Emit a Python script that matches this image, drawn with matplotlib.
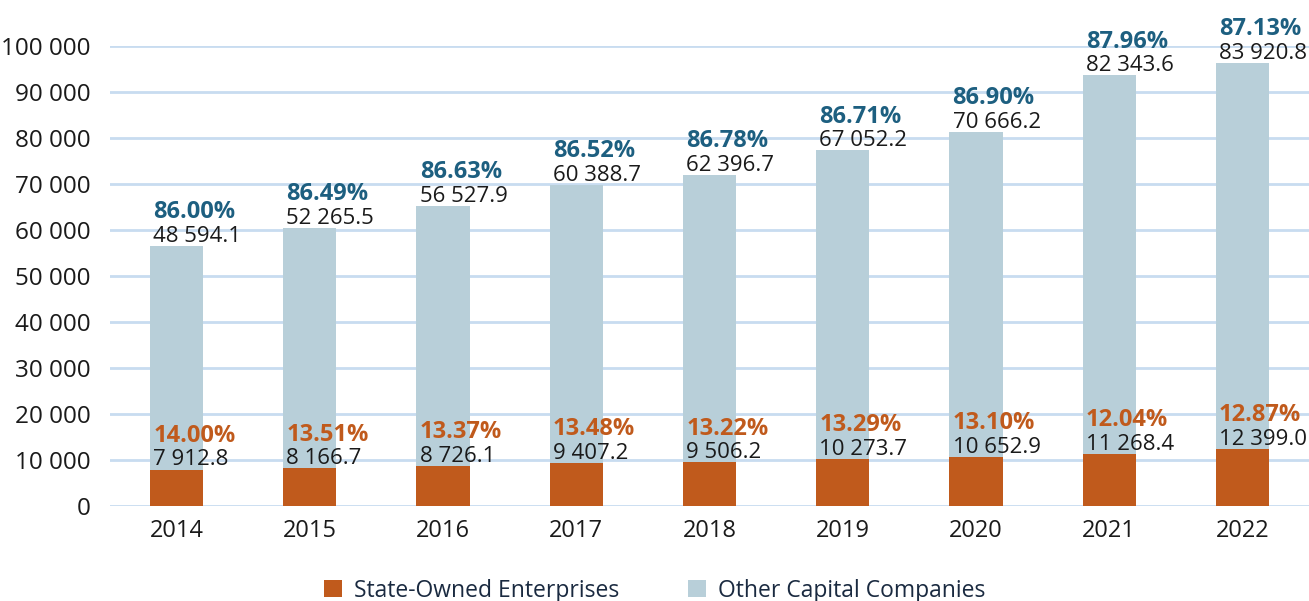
import matplotlib.pyplot as plt
from matplotlib.ticker import FuncFormatter
import numpy as np

years = ['2014', '2015', '2016', '2017', '2018', '2019', '2020', '2021', '2022']
soe = [7912.8, 8166.7, 8726.1, 9407.2, 9506.2, 10273.7, 10652.9, 11268.4, 12399.0]
other = [48594.1, 52265.5, 56527.9, 60388.7, 62396.7, 67052.2, 70666.2, 82343.6, 83920.8]
soe_pct = [14.00, 13.51, 13.37, 13.48, 13.22, 13.29, 13.10, 12.04, 12.87]
other_pct = [86.00, 86.49, 86.63, 86.52, 86.78, 86.71, 86.90, 87.96, 87.13]

plt.rcParams['font.family'] = ['Open Sans', 'DejaVu Sans']

color_soe = '#C05A1C'
color_other = '#B8CFD9'
color_pct = '#1D5F80'
color_grid = '#C8DCF0'
color_text = '#1a1a1a'


def fmt_num(v):
    s = f'{v:,.1f}'
    return s.replace(',', ' ')


fig = plt.figure(figsize=(13.09, 6.01), dpi=100)
ax = fig.add_axes([0.084, 0.158, 0.916, 0.7655])

x = np.arange(len(years))
w = 0.4
ax.bar(x, soe, width=w, color=color_soe, label='State-Owned Enterprises', zorder=3)
ax.bar(x, other, width=w, bottom=soe, color=color_other, label='Other Capital Companies', zorder=3)

for i in range(len(years)):
    xl = x[i] - w / 2 + 0.025
    top = soe[i] + other[i]
    ax.annotate(fmt_num(soe[i]), (xl, soe[i]), xytext=(0, 3), textcoords='offset points',
                ha='left', va='baseline', fontsize=16, color=color_text, zorder=4,
                annotation_clip=False)
    ax.annotate(f'{soe_pct[i]:.2f}%', (xl, soe[i]), xytext=(0, 20), textcoords='offset points',
                ha='left', va='baseline', fontsize=17, fontweight='bold', color=color_soe, zorder=4,
                annotation_clip=False)
    ax.annotate(fmt_num(other[i]), (xl, top), xytext=(0, 3), textcoords='offset points',
                ha='left', va='baseline', fontsize=16, color=color_text, zorder=4,
                annotation_clip=False)
    ax.annotate(f'{other_pct[i]:.2f}%', (xl, top), xytext=(0, 20), textcoords='offset points',
                ha='left', va='baseline', fontsize=17, fontweight='bold', color=color_pct, zorder=4,
                annotation_clip=False)

ax.set_xlim(-0.5, 8.5)
ax.set_ylim(0, 100000)
ax.set_yticks(np.arange(0, 100001, 10000))
ax.yaxis.set_major_formatter(FuncFormatter(lambda v, p: f'{int(v):,}'.replace(',', ' ')))
ax.set_xticks(x)
ax.set_xticklabels(years)
ax.tick_params(axis='both', length=0, labelsize=17, colors=color_text)
ax.tick_params(axis='y', labelsize=17.5, pad=14)
ax.tick_params(axis='x', pad=9)
ax.grid(axis='y', color=color_grid, linewidth=2, zorder=0)
ax.set_axisbelow(True)
for s in ax.spines.values():
    s.set_visible(False)

fig.legend(loc='lower center', bbox_to_anchor=(0.5, -0.037), ncol=2, frameon=False,
           fontsize=16.5, handlelength=0.8, handleheight=0.8, handletextpad=0.5,
           columnspacing=3.0, labelcolor='#1a2a40')

fig.savefig('out.png', dpi=100)
